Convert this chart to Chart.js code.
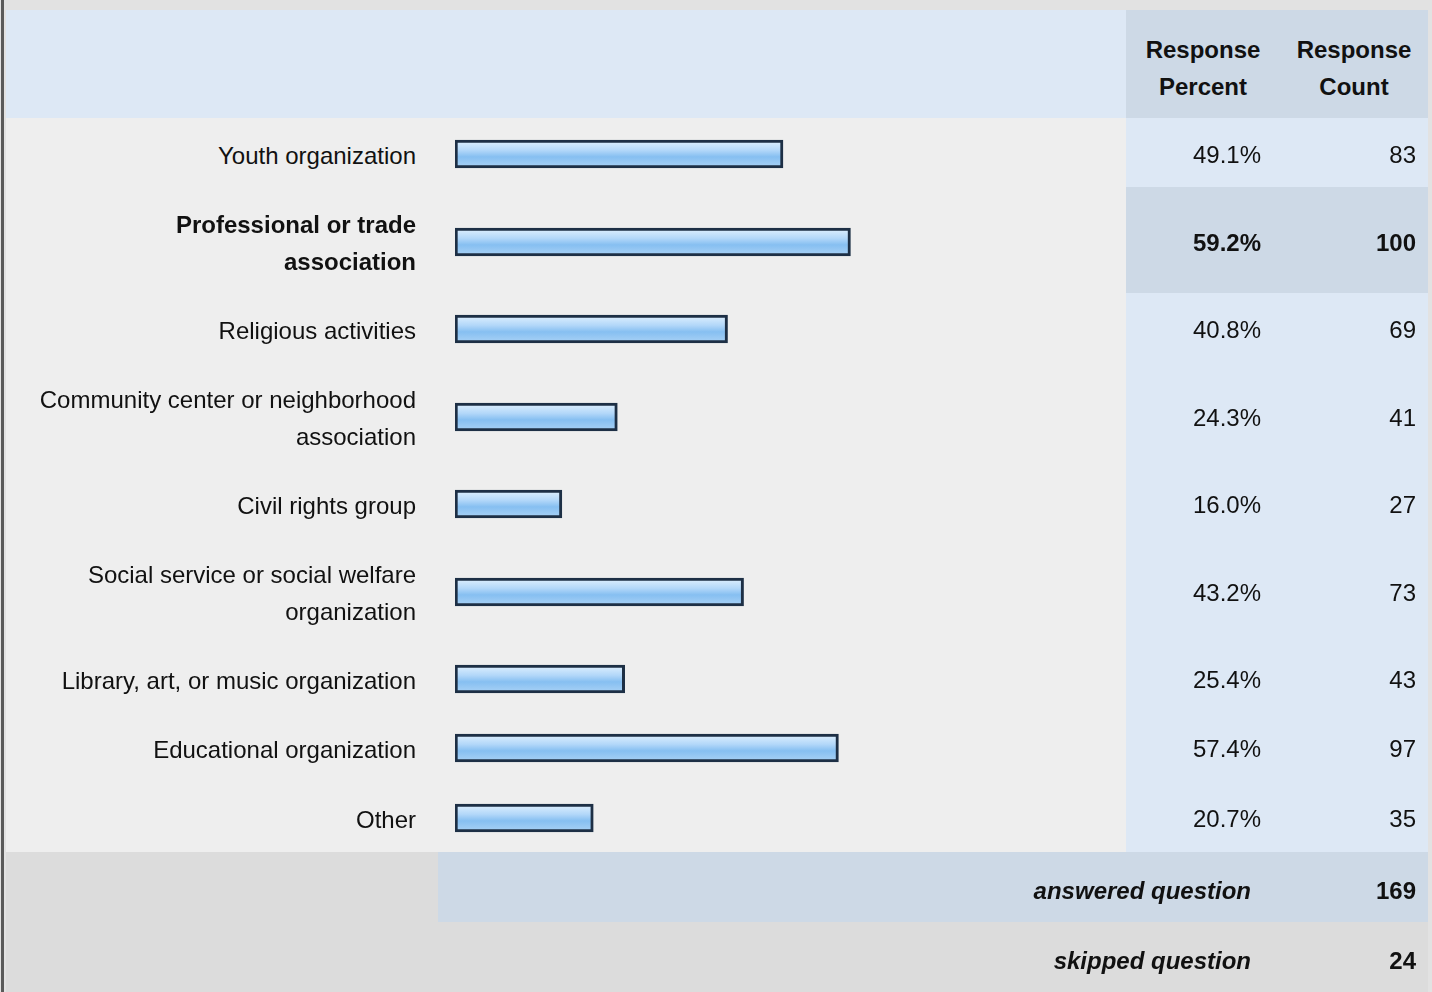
<!DOCTYPE html>
<html lang="en">
<head>
  <meta charset="UTF-8" />
  <title>Response summary</title>
  <style>
    body {
      margin: 0;
      width: 1432px;
      height: 992px;
      background: #e2e2e2;
      font-family: "Liberation Sans", Arial, sans-serif;
      color: #111;
      overflow: hidden;
      position: relative;
    }
    .edge {
      position: absolute;
      left: 1px;
      top: 0;
      width: 3px;
      height: 992px;
      background: #5a5a5a;
    }
    table {
      position: absolute;
      left: 6px;
      top: 10px;
      width: 1422px;
      border-collapse: collapse;
      table-layout: fixed;
      font-size: 24px;
    }
    td {
      padding: 5px 0 0 0;
      vertical-align: middle;
    }
    .head td { height: 100px; padding-top: 8px; font-weight: bold; line-height: 37px; text-align: center; }
    .head .blank { background: #dde8f5; }
    .head .col { background: #cdd9e6; }
    .label {
      background: #eeeeee;
      text-align: right;
      padding-right: 22px;
      line-height: 37px;
      white-space: nowrap;
    }
    .bar { background: #eeeeee; padding: 3px 0 0 17px; }
    .bar canvas { display: block; }
    .pct { background: #dde8f5; text-align: right; padding-right: 19px; }
    .cnt { background: #dde8f5; text-align: right; padding-right: 12px; }
    tr.hi .label { font-weight: bold; }
    tr.hi .pct, tr.hi .cnt { background: #cdd9e6; font-weight: bold; }
    .foot td { height: 62px; padding-top: 8px; font-weight: bold; }
    .foot .grey { background: #dcdcdc; }
    .foot .blue { background: #cdd9e6; }
    .foot .note { text-align: right; padding-right: 29px; font-style: italic; }
    .foot .num { text-align: right; padding-right: 12px; }
  </style>
</head>
<body>
<div class="edge"></div>
<table>
  <colgroup>
    <col style="width:432px"><col style="width:688px"><col style="width:154px"><col style="width:148px">
  </colgroup>
  <tbody id="rows">
    <tr class="head">
      <td class="blank" colspan="2"></td>
      <td class="col">Response<br>Percent</td>
      <td class="col">Response<br>Count</td>
    </tr>
  </tbody>
</table>

<script src="https://cdn.jsdelivr.net/npm/chart.js"></script>
<script>
  // survey answers, one entry per row (label lines, percent, count)
  const labels = [
    ['Youth organization'],
    ['Professional or trade', 'association'],
    ['Religious activities'],
    ['Community center or neighborhood', 'association'],
    ['Civil rights group'],
    ['Social service or social welfare', 'organization'],
    ['Library, art, or music organization'],
    ['Educational organization'],
    ['Other']
  ];
  const percents = [49.1, 59.2, 40.8, 24.3, 16.0, 43.2, 25.4, 57.4, 20.7];
  const counts = [83, 100, 69, 41, 27, 73, 43, 97, 35];
  const answered = 169;
  const skipped = 24;
  const xMax = 100;

  const tbody = document.getElementById('rows');
  const best = percents.indexOf(Math.max(...percents));
  const canvases = [];

  labels.forEach((lines, i) => {
    const tr = document.createElement('tr');
    if (i === best) tr.className = 'hi';
    let h = lines.length > 1 ? 101 : 64;
    if (i === labels.length - 1) h += 2;
    tr.innerHTML =
      `<td class="label" style="height:${h}px">${lines.join('<br>')}</td>` +
      `<td class="bar"><canvas width="668" height="34"></canvas></td>` +
      `<td class="pct">${percents[i].toFixed(1)}%</td>` +
      `<td class="cnt">${counts[i]}</td>`;
    tbody.appendChild(tr);
    canvases.push(tr.querySelector('canvas'));
  });

  tbody.insertAdjacentHTML('beforeend',
    `<tr class="foot"><td class="grey"></td><td class="blue note" colspan="2">answered question</td><td class="blue num">${answered}</td></tr>` +
    `<tr class="foot"><td class="grey"></td><td class="grey note" colspan="2">skipped question</td><td class="grey num">${skipped}</td></tr>`);

  // glossy blue fill like the original survey bars
  function barFill(ctx) {
    const area = ctx.chart.chartArea;
    if (!area) return '#8cc2f2';
    const mid = (area.top + area.bottom) / 2;
    const g = ctx.chart.ctx.createLinearGradient(0, mid - 12, 0, mid + 12);
    g.addColorStop(0, '#d8ecfd');
    g.addColorStop(0.35, '#b2d7f9');
    g.addColorStop(0.62, '#86bff1');
    g.addColorStop(1, '#a4cff5');
    return g;
  }

  canvases.forEach((cv, i) => {
    new Chart(cv, {
      type: 'bar',
      data: {
        labels: [labels[i].join(' ')],
        datasets: [{
          data: [percents[i]],
          backgroundColor: barFill,
          borderColor: '#1d2f45',
          borderWidth: 3,
          borderSkipped: false,
          barThickness: 28
        }]
      },
      options: {
        indexAxis: 'y',
        responsive: false,
        animation: false,
        layout: { padding: 0 },
        scales: {
          x: { display: false, min: 0, max: xMax },
          y: { display: false }
        },
        plugins: {
          legend: { display: false },
          tooltip: { enabled: false }
        }
      }
    });
  });
</script>
</body>
</html>
